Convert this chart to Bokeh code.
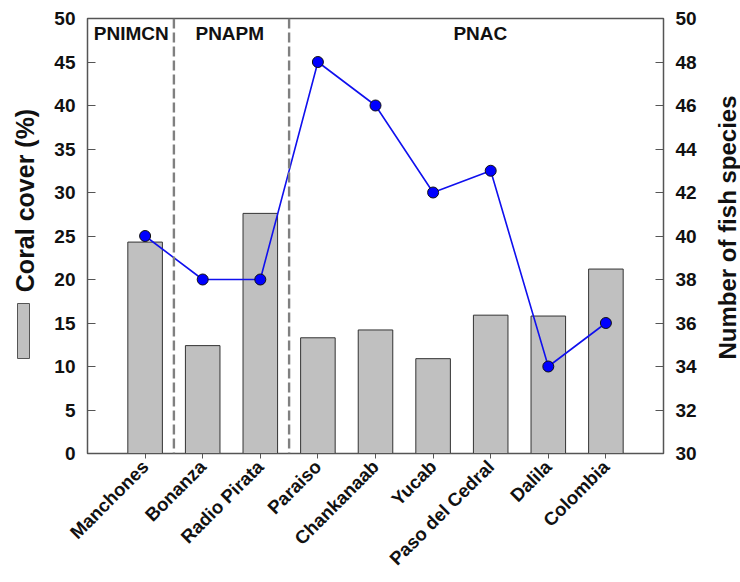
import math
import numpy as np
from bokeh.plotting import figure
from bokeh.layouts import row
from bokeh.models import (Range1d, LinearAxis, FixedTicker, Span, Label,
                          ColumnDataSource)
from bokeh.core.properties import value
from bokeh.embed import file_html
from bokeh.resources import INLINE

sites = ["Manchones", "Bonanza", "Radio Pirata", "Paraiso", "Chankanaab",
         "Yucab", "Paso del Cedral", "Dalila", "Colombia"]
coral_cover = [24.3, 12.4, 27.6, 13.3, 14.2, 10.9, 15.9, 15.8, 21.2]
fish_species = [40, 38, 38, 48, 46, 42, 43, 34, 36]
groups = ["PNIMCN", "PNAPM", "PNAC"]
group_centers = [0.76, 2.47, 6.82]
group_bounds = [1.5, 3.5]
left_ticks = list(range(0, 51, 5))
right_ticks = list(range(30, 51, 2))
left_title = "Coral cover (%)"
right_title = "Number of fish species"

FONT = "Liberation Sans"
TXT = "#111111"
AX = "#555555"
BAR_FILL = "#c0c0c0"
BAR_LINE = "#333333"
H = 582
LW, MW, RW = 44, 668, 28
FRAME_TOP, FRAME_BOTTOM = 18, 453

x = np.arange(1, len(sites) + 1)
src = ColumnDataSource(dict(x=x, cover=coral_cover, fish=fish_species))

# ---- main plot ----
p = figure(width=MW, height=H, output_backend="svg", toolbar_location=None,
           x_range=Range1d(0, 10), y_range=Range1d(0, 50),
           min_border_left=43, min_border_top=FRAME_TOP, min_border_right=49,
           min_border_bottom=H - FRAME_BOTTOM)
p.extra_y_ranges = {"fish": Range1d(30, 50)}
p.xgrid.visible = False
p.ygrid.visible = False
p.outline_line_color = AX
p.outline_line_width = 1.5

p.vbar(x="x", top="cover", width=0.6, source=src, fill_color=BAR_FILL,
       line_color=BAR_LINE, line_width=1)
p.line(x="x", y="fish", source=src, y_range_name="fish", line_color="#1010ee",
       line_width=1.6)
p.scatter(x="x", y="fish", source=src, y_range_name="fish", size=11,
          fill_color="#0000ff", line_color="#111111", line_width=1)

for b in group_bounds:
    p.add_layout(Span(location=b, dimension="height", line_color="#808080",
                      line_width=2.4, line_dash="10 4"))
for g, c in zip(groups, group_centers):
    p.add_layout(Label(x=c, y=48.25, text=g, text_font=FONT, text_font_style="bold",
                       text_font_size="19px", text_align="center",
                       text_baseline="middle", text_color=TXT))

xa = p.xaxis[0]
xa.ticker = FixedTicker(ticks=list(x))
xa.major_label_overrides = {int(i): s for i, s in zip(x, sites)}
xa.major_label_orientation = math.pi / 4
xa.major_label_text_font = FONT
xa.major_label_text_font_style = "bold"
xa.major_label_text_font_size = "18.5px"
xa.major_label_text_color = TXT
xa.major_tick_in = 0
xa.major_tick_out = 5
xa.minor_tick_line_color = None
xa.axis_line_color = AX
xa.major_tick_line_color = AX
xa.major_label_standoff = 5

ya = p.yaxis[0]
ya.ticker = FixedTicker(ticks=left_ticks)
ya.major_label_text_font = FONT
ya.major_label_text_font_style = "bold"
ya.major_label_text_font_size = "19px"
ya.major_label_text_color = TXT
ya.major_tick_in = 8
ya.major_tick_out = 0
ya.minor_tick_line_color = None
ya.axis_line_color = AX
ya.major_tick_line_color = AX
ya.major_label_standoff = 12

ra = LinearAxis(y_range_name="fish", ticker=FixedTicker(ticks=right_ticks))
ra.major_label_text_font = FONT
ra.major_label_text_font_style = "bold"
ra.major_label_text_font_size = "19px"
ra.major_label_text_color = TXT
ra.major_tick_in = 8
ra.major_tick_out = 0
ra.minor_tick_line_color = None
ra.axis_line_color = AX
ra.major_tick_line_color = AX
ra.major_label_standoff = 12
p.add_layout(ra, "right")


def side_panel(w):
    # frame of this panel is aligned with the main frame (rows align plot borders),
    # so use a pixel-like range spanning FRAME_TOP..FRAME_BOTTOM
    f = figure(width=w, height=H, output_backend="svg", toolbar_location=None,
               x_range=Range1d(0, w), y_range=Range1d(FRAME_BOTTOM, FRAME_TOP),
               min_border=0, min_border_left=0, min_border_right=0,
               min_border_top=FRAME_TOP, min_border_bottom=H - FRAME_BOTTOM)
    f.axis.visible = False
    f.grid.visible = False
    f.outline_line_color = None
    return f


# ---- left panel: axis title + legend swatch ----
lp = side_panel(LW)
lp.text(x=[24], y=[200], text=[left_title], angle=math.pi / 2,
        text_font=value(FONT), text_font_style="bold", text_font_size="25px",
        text_align="center", text_baseline="middle", text_color=TXT)
lp.quad(left=[17], right=[29], top=[303], bottom=[358], fill_color=BAR_FILL,
        line_color=AX, line_width=1)

# ---- right panel: axis title ----
rp = side_panel(RW)
rp.text(x=[15], y=[227], text=[right_title], angle=math.pi / 2,
        text_font=value(FONT), text_font_style="bold", text_font_size="24px",
        text_align="center", text_baseline="middle", text_color=TXT)

layout = row(lp, p, rp, spacing=0)
open("out.html", "w").write(file_html(layout, INLINE))
